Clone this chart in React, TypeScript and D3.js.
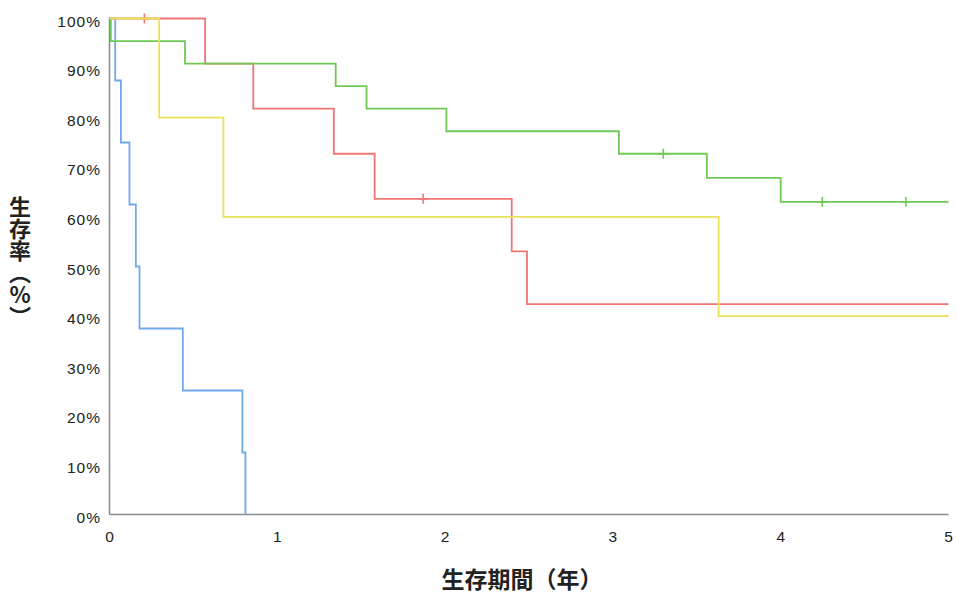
import React from "react";
import * as d3 from "d3";

const xTicks = [0, 1, 2, 3, 4, 5];
const yTicks = [0, 10, 20, 30, 40, 50, 60, 70, 80, 90, 100];

const blueTimes = [0, 0.034, 0.068, 0.119, 0.157, 0.179, 0.437, 0.792, 0.81];
const blueSurv = [100, 87.5, 75, 62.5, 50, 37.5, 25, 12.5, 0];
const blueCensor: number[] = [];

const redTimes = [0, 0.57, 0.857, 1.337, 1.58, 2.397, 2.488, 5];
const redSurv = [100, 90.91, 81.82, 72.73, 63.64, 53.03, 42.42, 42.42];
const redCensor = [0.208, 1.869];

const greenTimes = [0, 0.008, 0.45, 1.348, 1.532, 2.008, 3.036, 3.56, 4.0, 5];
const greenSurv = [100, 95.45, 90.91, 86.36, 81.82, 77.27, 72.73, 67.88, 63.03, 63.03];
const greenCensor = [3.3, 4.248, 4.746];

const yellowTimes = [0, 0.296, 0.679, 3.63, 5];
const yellowSurv = [100, 80, 60, 40, 40];
const yellowCensor: number[] = [];

const series = [
  { name: "blue", times: blueTimes, surv: blueSurv, censor: blueCensor, color: "#72a8ee" },
  { name: "red", times: redTimes, surv: redSurv, censor: redCensor, color: "#f07676" },
  { name: "green", times: greenTimes, surv: greenSurv, censor: greenCensor, color: "#6fca55" },
  { name: "yellow", times: yellowTimes, surv: yellowSurv, censor: yellowCensor, color: "#eae25a" },
];

const yTitle = "生存率（%）";
const xTitle = "生存期間（年）";

export default function App() {
  const W = 957;
  const H = 596;
  const x = d3.scaleLinear().domain([0, 5]).range([109.5, 948.5]);
  const y = d3.scaleLinear().domain([0, 100]).range([514.5, 18.5]);

  const survAt = (s: typeof series[0], t: number) => {
    let v = s.surv[0];
    for (let i = 0; i < s.times.length; i++) if (s.times[i] <= t) v = s.surv[i];
    return v;
  };

  const line = d3
    .line<[number, number]>()
    .x((d) => x(d[0]))
    .y((d) => y(d[1]))
    .curve(d3.curveStepAfter);

  const labelFont = "'Noto Sans CJK JP', 'Noto Sans CJK SC', sans-serif";
  const tickFont = "'Liberation Sans', Arial, sans-serif";

  return (
    <svg width={W} height={H} style={{ position: "absolute", left: 0, top: 0, background: "#fff" }}>
      {/* y tick labels */}
      {yTicks.map((t) => (
        <text
          key={"y" + t}
          x={101}
          y={y(t) + 8}
          textAnchor="end"
          fontFamily={tickFont}
          fontSize={15.5}
          letterSpacing={1}
          fill="#222"
        >
          {t}%
        </text>
      ))}
      {/* x tick labels */}
      {xTicks.map((t) => (
        <text
          key={"x" + t}
          x={x(t)}
          y={541.5}
          textAnchor="middle"
          fontFamily={tickFont}
          fontSize={15.5}
          fill="#222"
        >
          {t}
        </text>
      ))}
      {/* axes */}
      <line x1={x(0)} x2={x(0)} y1={y(100) - 1} y2={y(0)} stroke="#8a8a8a" strokeWidth={1.5} />
      <line x1={x(0)} x2={x(5)} y1={y(0)} y2={y(0)} stroke="#8a8a8a" strokeWidth={1.5} />

      {/* curves */}
      {series.map((s) => {
        const pts: [number, number][] = s.times.map((t, i) => [t, s.surv[i]]);
        return (
          <g key={s.name}>
            <path d={line(pts) || ""} fill="none" stroke={s.color} strokeWidth={1.8} />
            {s.censor.map((c, i) => (
              <g key={i} stroke={s.color} strokeWidth={1.6}>
                <line x1={x(c)} x2={x(c)} y1={y(survAt(s, c)) - 5} y2={y(survAt(s, c)) + 5} />
                <line x1={x(c) - 5} x2={x(c) + 5} y1={y(survAt(s, c))} y2={y(survAt(s, c))} />
              </g>
            ))}
          </g>
        );
      })}

      {/* y axis label (vertical writing) */}
      <text
        x={20}
        y={196}
        fontFamily={labelFont}
        fontWeight="bold"
        fontSize={22}
        fill="#222"
        style={{ writingMode: "vertical-rl", textOrientation: "upright" } as React.CSSProperties}
      >
        {yTitle}
      </text>

      {/* x axis label */}
      <text
        x={522}
        y={588}
        textAnchor="middle"
        fontFamily={labelFont}
        fontWeight="bold"
        fontSize={23}
        fill="#222"
      >
        {xTitle}
      </text>
    </svg>
  );
}
